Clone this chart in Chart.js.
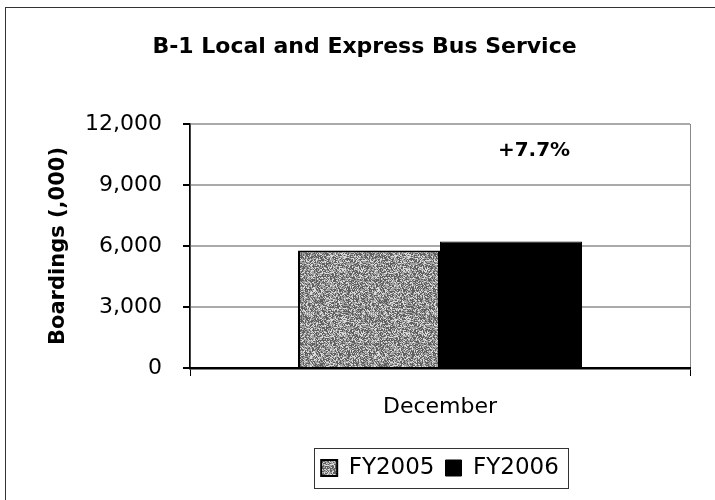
<!DOCTYPE html>
<html>
<head>
<meta charset="utf-8">
<script src="https://cdn.jsdelivr.net/npm/chart.js@4.4.1/dist/chart.umd.min.js"></script>
<style>
  html, body { margin: 0; padding: 0; background: #fff; overflow: hidden; }
  #wrap { width: 715px; height: 500px; position: relative; }
  canvas { display: block; }
</style>
</head>
<body>
<div id="wrap"><canvas id="c" width="715" height="500"></canvas></div>
<script>
// Monthly boardings (thousands) for the B-1 local and express bus service
const months = ['December'];
const fy2005 = [5780];
const fy2006 = [6225];
const seriesNames = ['FY2005', 'FY2006'];
const yTicks = [0, 3000, 6000, 9000, 12000];
const changeLabel = '+7.7%';
const changeLabelAt = 10700;   // height (in boardings) where the change note sits

const FONT = '"DejaVu Sans", "Liberation Sans", Arial, sans-serif';

// Speckled grey fill for the FY2005 bars (deterministic hash dither)
function speckle() {
  const s = 64;
  const cv = document.createElement('canvas');
  cv.width = s; cv.height = s;
  const g = cv.getContext('2d');
  const img = g.createImageData(s, s);
  for (let y = 0; y < s; y++) {
    for (let x = 0; x < s; x++) {
      let h = (x * 374761393 + y * 668265263) | 0;
      h = Math.imul(h ^ (h >>> 13), 1274126177);
      h = (h ^ (h >>> 16)) >>> 0;
      const v = (h % 1000) / 1000;
      const c = v < 0.4 ? 95 : (v < 0.78 ? 160 : 220);
      const i = (y * s + x) * 4;
      img.data[i] = c; img.data[i + 1] = c; img.data[i + 2] = c; img.data[i + 3] = 255;
    }
  }
  g.putImageData(img, 0, 0);
  return g.createPattern(cv, 'repeat');
}

const fmt = v => v.toLocaleString('en-US');

// White page, frame lines, legend box and the change note
const framePlugin = {
  id: 'frame',
  beforeDraw(chart) {
    const ctx = chart.ctx;
    ctx.save();
    ctx.fillStyle = '#fff';
    ctx.fillRect(0, 0, chart.width, chart.height);
    ctx.strokeStyle = '#333';
    ctx.lineWidth = 1;
    ctx.strokeRect(5.5, 7.5, chart.width + 20, chart.height + 20);
    ctx.restore();
  },
  afterDraw(chart) {
    const ctx = chart.ctx;
    const hb = chart.legend.legendHitBoxes;
    ctx.save();
    if (hb && hb.length) {
      const first = hb[0], last = hb[hb.length - 1];
      const cy = first.top + first.height / 2;
      const left = Math.round(first.left - 7) + 0.5;
      const right = Math.round(last.left + last.width + 9) + 0.5;
      ctx.strokeStyle = '#333';
      ctx.lineWidth = 1;
      ctx.strokeRect(left, Math.round(cy - 20) + 0.5, right - left, 40);
    }
    const ys = chart.scales.y;
    const bar = chart.getDatasetMeta(1).data[0];
    ctx.fillStyle = '#000';
    ctx.font = 'bold 20px ' + FONT;
    ctx.textAlign = 'center';
    ctx.textBaseline = 'middle';
    ctx.fillText(changeLabel, bar.x + 23, ys.getPixelForValue(changeLabelAt));
    ctx.restore();
  }
};

new Chart(document.getElementById('c'), {
  type: 'bar',
  data: {
    labels: months,
    datasets: [
      { label: seriesNames[0], data: fy2005, backgroundColor: speckle(), borderColor: '#000', borderWidth: 2 },
      { label: seriesNames[1], data: fy2006, backgroundColor: '#000', borderColor: '#000', borderWidth: 1 }
    ]
  },
  plugins: [framePlugin],
  options: {
    responsive: false,
    animation: false,
    events: [],
    layout: { padding: { left: 39, right: 25, top: 0, bottom: 10.5 } },
    categoryPercentage: 0.568,
    barPercentage: 1.0,
    plugins: {
      title: {
        display: true,
        text: 'B-1 Local and Express Bus Service',
        color: '#000',
        font: { family: FONT, size: 22, weight: 'bold' },
        padding: { top: 34.5, bottom: 63.1 }
      },
      legend: {
        position: 'bottom',
        fullSize: false,
        labels: {
          color: '#000',
          font: { family: FONT, size: 23 },
          boxWidth: 16, boxHeight: 16,
          padding: 11
        }
      },
      tooltip: { enabled: false }
    },
    scales: {
      x: {
        afterFit(axis) { axis.height = 77.5; },
        grid: { offset: true, color: '#8a8a8a', lineWidth: 1, drawOnChartArea: true, tickLength: 8, tickColor: '#000' },
        border: { color: '#000', width: 2.5 },
        ticks: { color: '#000', font: { family: FONT, size: 22 }, padding: 17.8 }
      },
      y: {
        min: 0, max: 12000,
        afterFit(axis) { axis.width = 190 - 39; },
        afterBuildTicks(axis) { axis.ticks = yTicks.map(v => ({ value: v })); },
        grid: { color: '#aaa', lineWidth: 2, tickLength: 7, tickColor: '#000' },
        border: { color: '#000', width: 1.5 },
        ticks: { color: '#000', font: { family: FONT, size: 22 }, padding: 21, callback: v => fmt(v) },
        title: { display: true, text: 'Boardings (,000)', color: '#000', font: { family: FONT, size: 21, weight: 'bold' }, padding: { top: 7.4, bottom: 0 } }
      }
    }
  }
});
</script>
</body>
</html>
